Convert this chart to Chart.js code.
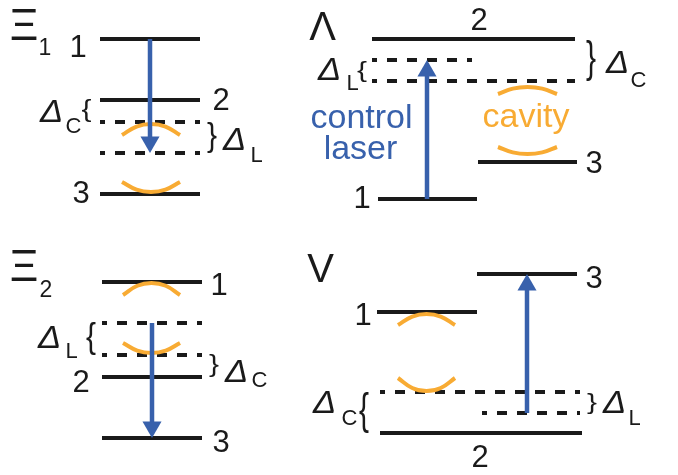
<!DOCTYPE html>
<html>
<head>
<meta charset="utf-8">
<script src="https://cdn.jsdelivr.net/npm/chart.js@4/dist/chart.umd.min.js"></script>
<style>
  html, body { margin: 0; padding: 0; background: #fff; }
  canvas { display: block; }
</style>
</head>
<body>
<canvas id="diagram" width="678" height="475"></canvas>
<script>
// ---------------------------------------------------------------
// Level schemes (vertical positions, diagram units, growing downward)
// Order inside each array: level 1, level 2, level 3
const levelNumbers = ['1', '2', '3'];
const schemeNames = ['Ξ', 'Λ', 'Ξ', 'V'];
const schemeSubscripts = ['1', '', '2', ''];

const xi1Levels = [39, 100, 194];
const lambdaLevels = [199, 39, 162];
const xi2Levels = [282, 377, 438];
const vLevels = [312, 433, 274];

// Detuned virtual levels: [laser, cavity]
const xi1Detuned = [153, 122];
const lambdaDetuned = [60, 81];
const xi2Detuned = [323, 355];
const vDetuned = [413, 392];

// Shape of a cavity-mode arc: relative height at 0, 1/4, 1/2, 3/4, 1 of its width
const arcProfile = [0, 0.77, 1, 0.77, 0];

const deltaSymbol = 'Δ';
const deltaSubs = ['C', 'L'];
const laserText = ['control', 'laser'];
const cavityText = 'cavity';
// ---------------------------------------------------------------

const BLACK = '#1a1a1a';
const BLUE = '#3861ac';
const ORANGE = '#f8ab33';
const FONT = '"Liberation Sans", Arial, Helvetica, sans-serif';
const HEAD_R = 11;

const datasets = [];
const addLine = (pts, extra) => datasets.push(Object.assign({
  data: pts, showLine: true, pointRadius: 0, borderWidth: 4,
  borderColor: BLACK, fill: false, tension: 0, borderCapStyle: 'butt'
}, extra));
const hline = (x1, x2, y) => [{ x: x1, y: y }, { x: x2, y: y }];

// Control-laser arrows: [x, from, to]
const arrows = [
  [150, xi1Levels[0], xi1Detuned[0]],
  [427, lambdaLevels[0], lambdaDetuned[0]],
  [152, xi2Detuned[0], xi2Levels[2]],
  [527, vDetuned[0], vLevels[2]]
];
arrows.forEach(([x, from, to]) => {
  const dir = Math.sign(to - from);           // +1 downward, -1 upward
  const headCentre = to - dir * HEAD_R;
  datasets.push({
    data: [{ x: x, y: headCentre }], showLine: false,
    pointStyle: 'triangle', pointRadius: HEAD_R, pointRotation: dir > 0 ? 180 : 0,
    pointBackgroundColor: BLUE, pointBorderWidth: 0
  });
  addLine([{ x: x, y: from }, { x: x, y: headCentre }], { borderColor: BLUE, borderWidth: 4.5 });
});

// Cavity-mode arcs: [x left, x right, reference level, side (+1 below it, -1 above), gap, sag]
const arcs = [
  [122, 180, xi1Detuned[1], 1, 2, 11],
  [122, 180, xi1Levels[2], -1, 2, 10],
  [498, 557, lambdaDetuned[1], 1, 6, 7],
  [498, 557, lambdaLevels[2], -1, 8, 7],
  [123, 180, xi2Levels[0], 1, 1, 12],
  [123, 180, xi2Detuned[1], -1, 2, 10],
  [398, 455, vLevels[0], 1, 2, 11],
  [398, 455, vDetuned[1], -1, 1, 13]
];
arcs.forEach(([x1, x2, ref, side, gap, sag]) => {
  const apex = ref + side * gap;
  const pts = arcProfile.map((h, i) => ({
    x: x1 + (x2 - x1) * i / (arcProfile.length - 1),
    y: apex + side * sag * (1 - h)
  }));
  addLine(pts, { borderColor: ORANGE, borderWidth: 4, tension: 0.4 });
});

// Dashed detuned levels: [x1, x2, y]
const dashed = [
  [100, 200, xi1Detuned[1]], [100, 200, xi1Detuned[0]],
  [372, 472, lambdaDetuned[0]], [372, 575, lambdaDetuned[1]],
  [102, 202, xi2Detuned[0]], [102, 202, xi2Detuned[1]],
  [380, 580, vDetuned[1]], [482, 580, vDetuned[0]]
];
dashed.forEach(([x1, x2, y]) => addLine(hline(x1, x2, y), { borderDash: [10, 10], borderDashOffset: 5 }));

// Real levels: spans for levels 1, 2, 3 of each scheme
const levelSpans = [
  [xi1Levels, [[100, 200], [100, 200], [100, 200]]],
  [lambdaLevels, [[378, 477], [372, 575], [478, 577]]],
  [xi2Levels, [[102, 202], [102, 202], [102, 202]]],
  [vLevels, [[377, 477], [380, 582], [477, 577]]]
];
levelSpans.forEach(([levels, spans]) =>
  levels.forEach((y, i) => addLine(hline(spans[i][0], spans[i][1], y))));

// ---- text layout ----
const titlePos = [
  { x: 24, y: 40, sx: 45, sy: 55, size: 44 },
  { x: 322.5, y: 40, size: 40 },
  { x: 24, y: 281, sx: 46, sy: 297, size: 44 },
  { x: 320.5, y: 282, size: 40 }
];
// centre x, baseline for levels 1, 2, 3
const numberPos = [
  [[78, 57], [221, 110], [81, 203]],
  [[362, 208], [479, 30], [594, 173]],
  [[219, 295], [81, 392], [221, 452]],
  [[363, 325], [480, 467], [594, 288]]
];
// Δ labels: [left x, baseline, subscript index, sub left x, sub baseline]
const deltaPos = [
  [42, 122, 0, 67, 133], [225, 150, 1, 252, 162],
  [320, 80, 1, 348, 90], [608, 73, 0, 632, 87],
  [40, 348, 1, 67, 358], [227, 382, 0, 253, 387],
  [315, 413, 0, 343, 425], [605, 413, 1, 630, 425]
];
// Braces: [char, centre x, top level, bottom level]
const braces = [
  ['{', 86.5, xi1Levels[1], xi1Detuned[1]], ['}', 212, xi1Detuned[1], xi1Detuned[0]],
  ['{', 362, lambdaDetuned[0], lambdaDetuned[1]], ['}', 591, lambdaLevels[1], lambdaDetuned[1]],
  ['{', 91, xi2Detuned[0], xi2Detuned[1]], ['}', 214, xi2Detuned[1], xi2Levels[1]],
  ['{', 364, vDetuned[1], vLevels[1]], ['}', 592, vDetuned[1], vDetuned[0]]
];

function text(ctx, s, x, y, size, opt) {
  opt = opt || {};
  ctx.save();
  ctx.font = (opt.italic ? 'italic ' : '') + size + 'px ' + FONT;
  ctx.fillStyle = opt.color || BLACK;
  ctx.textAlign = opt.align || 'center';
  ctx.textBaseline = 'alphabetic';
  ctx.translate(x, y);
  if (opt.stretch) ctx.scale(opt.stretch, 1);
  ctx.fillText(s, 0, 0);
  ctx.restore();
}

const labelPlugin = {
  id: 'schemeLabels',
  afterDatasetsDraw(chart) {
    const ctx = chart.ctx;
    const X = v => chart.scales.x.getPixelForValue(v);
    const Y = v => chart.scales.y.getPixelForValue(v);

    schemeNames.forEach((n, i) => {
      const p = titlePos[i];
      text(ctx, n, X(p.x), Y(p.y), p.size);
      if (schemeSubscripts[i]) text(ctx, schemeSubscripts[i], X(p.sx), Y(p.sy), 23);
    });

    numberPos.forEach(list => list.forEach((p, i) => text(ctx, levelNumbers[i], X(p[0]), Y(p[1]), 31)));

    deltaPos.forEach(([x, y, s, sx, sy]) => {
      text(ctx, deltaSymbol, X(x) - 2, Y(y), 32, { italic: true, align: 'left', stretch: 1.08 });
      text(ctx, deltaSubs[s], X(sx) - 1.5, Y(sy), 22, { align: 'left' });
    });

    braces.forEach(([ch, x, top, bottom]) => {
      ctx.save();
      ctx.font = '30px ' + FONT;
      ctx.fillStyle = BLACK;
      ctx.textAlign = 'center';
      ctx.textBaseline = 'alphabetic';
      const m = ctx.measureText(ch);
      const h = m.actualBoundingBoxAscent + m.actualBoundingBoxDescent;
      const y0 = Y(top), y1 = Y(bottom);
      const k = (y1 - y0) / h;
      ctx.translate(X(x), y0);
      ctx.scale(1, k);
      ctx.fillText(ch, 0, m.actualBoundingBoxAscent);
      ctx.restore();
    });

    text(ctx, laserText[0], X(361.5), Y(128), 34, { color: BLUE });
    text(ctx, laserText[1], X(360.5), Y(159), 34, { color: BLUE });
    text(ctx, cavityText, X(526), Y(127), 34, { color: ORANGE });
  }
};

new Chart(document.getElementById('diagram'), {
  type: 'scatter',
  data: { datasets: datasets },
  options: {
    responsive: false,
    animation: false,
    events: [],
    layout: { padding: 0, autoPadding: false },
    scales: {
      x: { type: 'linear', min: 0, max: 678, display: false },
      y: { type: 'linear', min: 0, max: 475, reverse: true, display: false }
    },
    plugins: { legend: { display: false }, tooltip: { enabled: false } }
  },
  plugins: [labelPlugin]
});
</script>
</body>
</html>
